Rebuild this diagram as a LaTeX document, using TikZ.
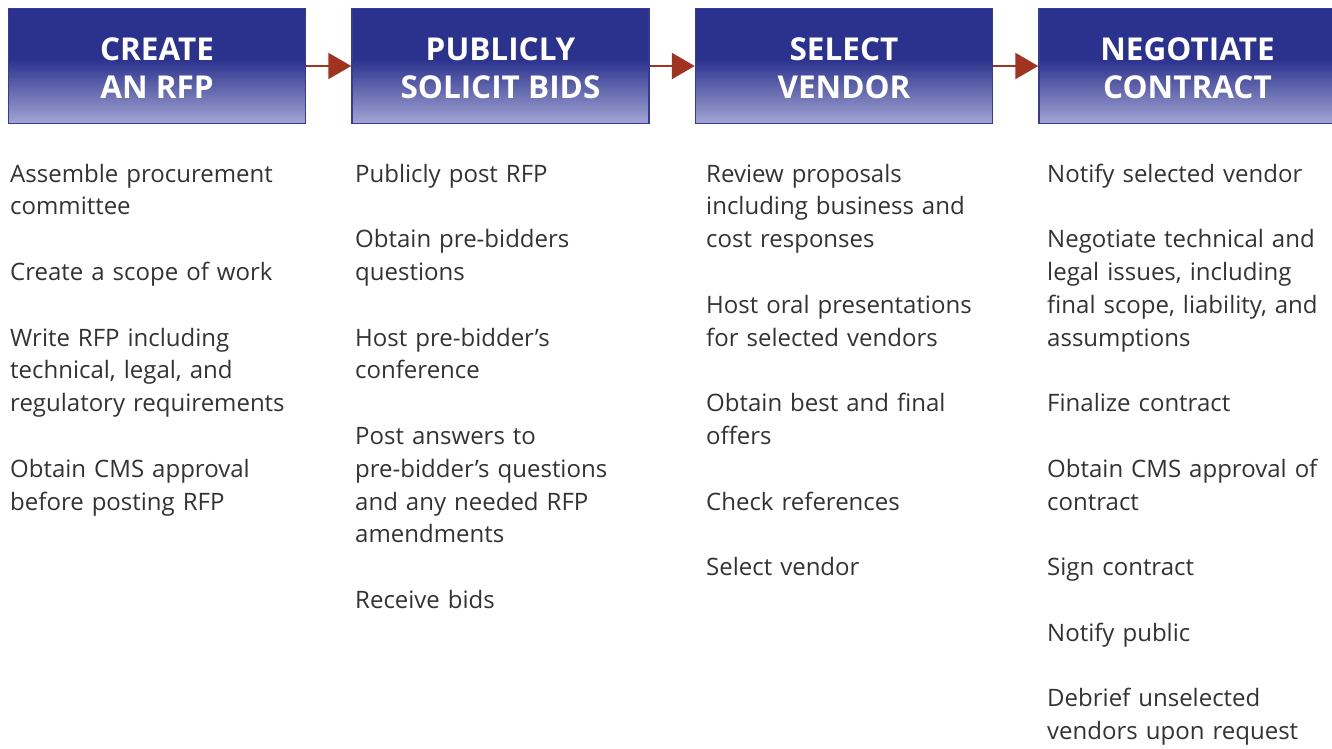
\documentclass[tikz,border=0pt]{standalone}
\usepackage{fontspec}
\setmainfont{Open Sans}
\usetikzlibrary{arrows.meta}
\definecolor{bleufonce}{RGB}{43,50,142}
\definecolor{bleuclair}{RGB}{162,165,210}
\definecolor{bleubord}{RGB}{52,58,160}
\definecolor{brique}{RGB}{160,52,32}
\definecolor{gristexte}{RGB}{51,51,51}
\pgfdeclareverticalshading{degrade}{100bp}{color(0bp)=(bleuclair); color(25bp)=(bleuclair); color(53bp)=(bleufonce); color(100bp)=(bleufonce)}
\begin{document}
\begin{tikzpicture}[x=1pt,y=-1pt]
		\tikzstyle{entete}=[draw=bleubord,line width=1.5pt,shading=degrade,minimum width=297pt,minimum height=115pt,inner sep=0pt]
		\tikzstyle{titre}=[inner sep=0pt,text=white,align=center,font=\bfseries\fontsize{31.5}{38}\selectfont]
		\tikzstyle{fleche}=[-{Triangle[length=23pt,width=26pt]},line width=2.5pt,brique]
		\tikzstyle{liste}=[anchor=base west,text width=320pt,align=left,inner sep=0pt,text=gristexte,font=\fontsize{24}{32.8}\selectfont]
		\def\Pas{343.5}
		\def\CentreBoite{66}
		\def\LigneTexte{182}
		\def\Saut{\\[32.8pt]}
		\useasboundingbox (0,0) rectangle (1332,748);
		\node[entete] (creer) at ({157+0*\Pas},\CentreBoite) {};
		\node[entete] (solliciter) at ({157+1*\Pas},\CentreBoite) {};
		\node[entete] (choisir) at ({157+2*\Pas},\CentreBoite) {};
		\node[entete] (negocier) at ({157+3*\Pas},\CentreBoite) {};
		\node[titre] (titreA) at ([yshift=-2.5pt]creer.center) {CREATE\\AN RFP};
		\node[titre] (titreB) at ([yshift=-2.5pt]solliciter.center) {PUBLICLY\\SOLICIT BIDS};
		\node[titre] (titreC) at ([yshift=-2.5pt]choisir.center) {SELECT\\VENDOR};
		\node[titre] (titreD) at ([yshift=-2.5pt]negocier.center) {NEGOTIATE\\CONTRACT};
		\draw[fleche] (creer)--(solliciter);
		\draw[fleche] (solliciter)--(choisir);
		\draw[fleche] (choisir)--(negocier);
		\node[liste] (listeA) at (10,\LigneTexte) {Assemble procurement\\committee\Saut
			Create a scope of work\Saut
			Write RFP including\\technical, legal, and\\regulatory requirements\Saut
			Obtain CMS approval\\before posting RFP};
		\node[liste] (listeB) at (355,\LigneTexte) {Publicly post RFP\Saut
			Obtain pre-bidders\\questions\Saut
			Host pre-bidder’s\\conference\Saut
			Post answers to\\pre-bidder’s questions\\and any needed RFP\\amendments\Saut
			Receive bids};
		\node[liste] (listeC) at (706,\LigneTexte) {Review proposals\\including business and\\cost responses\Saut
			Host oral presentations\\for selected vendors\Saut
			Obtain best and final\\offers\Saut
			Check references\Saut
			Select vendor};
		\node[liste] (listeD) at (1047,\LigneTexte) {Notify selected vendor\Saut
			Negotiate technical and\\legal issues, including\\final scope, liability, and\\assumptions\Saut
			Finalize contract\Saut
			Obtain CMS approval of\\contract\Saut
			Sign contract\Saut
			Notify public\Saut
			Debrief unselected\\vendors upon request};
	\end{tikzpicture}
\end{document}
